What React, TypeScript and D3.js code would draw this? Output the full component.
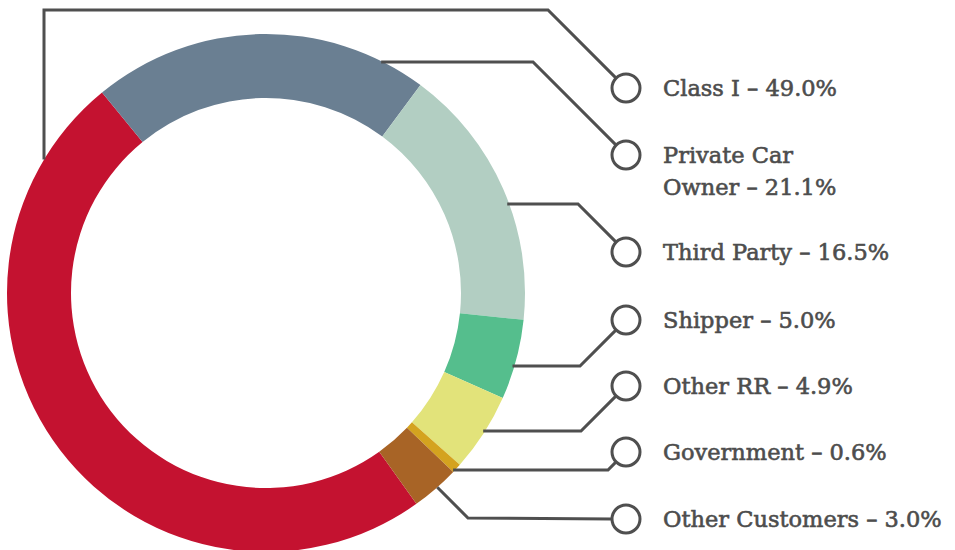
import React from "react";
import * as d3 from "d3";

const categories = [
  "Class I",
  "Private Car Owner",
  "Third Party",
  "Shipper",
  "Other RR",
  "Government",
  "Other Customers",
];
const values = [49.0, 21.1, 16.5, 5.0, 4.9, 0.6, 3.0];
const labelLines = [
  ["Class I – 49.0%"],
  ["Private Car", "Owner – 21.1%"],
  ["Third Party – 16.5%"],
  ["Shipper – 5.0%"],
  ["Other RR – 4.9%"],
  ["Government – 0.6%"],
  ["Other Customers – 3.0%"],
];
const colors = ["#C41230", "#6A7F92", "#B2CEC2", "#55BE8D", "#E2E37A", "#D4A31F", "#A86426"];

// layout
const W = 955;
const H = 550;
const CX = 266;
const CY = 293;
const R_OUT = 259;
const R_IN = 195;
const START_DEG = 144.5;
const MARKER_X = 626;
const MARKER_R = 14;
const TEXT_X = 663;
const markerY = [88, 155, 252, 320, 386, 452, 519];
const elbowY = [10, 62, 204, 366, 431, 470, 518];
const LINE_COLOR = "#4f4f4f";
const TEXT_COLOR = "#4d4d4d";

function outerX(y: number, side: number) {
  const dy = y - CY;
  return CX + side * Math.sqrt(R_OUT * R_OUT - dy * dy);
}

function leaderPath(i: number): string {
  const my = markerY[i];
  const hy = elbowY[i];
  const ex = MARKER_X - Math.abs(my - hy);
  const dirY = my > hy ? 1 : my < hy ? -1 : 0;
  let endX: number, endY: number;
  if (dirY === 0 || ex >= MARKER_X - 1) {
    endX = MARKER_X - MARKER_R;
    endY = my;
  } else {
    endX = MARKER_X - MARKER_R * Math.SQRT1_2;
    endY = my - dirY * MARKER_R * Math.SQRT1_2;
  }
  const p = d3.path();
  if (i === 0) {
    const vx = 44;
    const vy = CY - Math.sqrt(R_OUT * R_OUT - (vx - CX) * (vx - CX));
    p.moveTo(vx, vy);
    p.lineTo(vx, hy);
    p.lineTo(ex, hy);
  } else if (i === categories.length - 1) {
    const startHX = 468;
    const c = startHX - hy; // x = y + c
    const k = c + CY - CX;
    const v = (-k + Math.sqrt(k * k - 2 * (k * k - R_OUT * R_OUT))) / 2;
    const sy = CY + v;
    p.moveTo(sy + c, sy);
    p.lineTo(startHX, hy);
    p.lineTo(endX, endY);
    return p.toString();
  } else {
    p.moveTo(outerX(hy, 1) - 2, hy);
    p.lineTo(ex, hy);
  }
  p.lineTo(endX, endY);
  return p.toString();
}

export default function App() {
  const startRad = (START_DEG * Math.PI) / 180;
  const pie = d3
    .pie<number>()
    .sort(null)
    .startAngle(startRad)
    .endAngle(startRad + 2 * Math.PI)(values);
  const arc = d3.arc<d3.PieArcDatum<number>>().innerRadius(R_IN).outerRadius(R_OUT);

  return (
    <svg
      width={W}
      height={H}
      viewBox={`0 0 ${W} ${H}`}
      style={{ position: "absolute", left: 0, top: 0, background: "#fff" }}
    >
      <g transform={`translate(${CX},${CY})`}>
        {pie.map((d, i) => (
          <path key={categories[i]} d={arc(d) || ""} fill={colors[i]} />
        ))}
      </g>
      {categories.map((c, i) => (
        <g key={c}>
          <path d={leaderPath(i)} fill="none" stroke={LINE_COLOR} strokeWidth={3} strokeLinejoin="miter" />
          <circle cx={MARKER_X} cy={markerY[i]} r={MARKER_R} fill="#fff" stroke={LINE_COLOR} strokeWidth={3} />
          <text
            x={TEXT_X}
            y={markerY[i] + 8}
            fill={TEXT_COLOR}
            stroke={TEXT_COLOR}
            strokeWidth={0.6}
            fontFamily="'DejaVu Serif', serif"
            fontSize={22.5}
          >
            {labelLines[i].map((t, j) => (
              <tspan key={j} x={TEXT_X} dy={j === 0 ? 0 : 32}>
                {t}
              </tspan>
            ))}
          </text>
        </g>
      ))}
    </svg>
  );
}
